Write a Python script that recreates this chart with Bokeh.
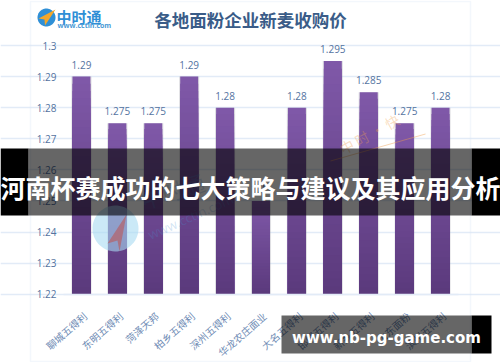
import numpy as np
from bokeh.plotting import figure
from bokeh.models import (ColumnDataSource, Range1d, FixedTicker, BoxAnnotation, Label, PolyAnnotation)
from bokeh.core.properties import value
from bokeh.embed import file_html
from bokeh.resources import INLINE

categories = ["聊城五得利", "东明五得利", "菏泽天邦", "柏乡五得利", "深州五得利", "华龙农庄面业",
              "大名五得利", "邯郸五得利", "新乡五得利", "山东面粉", "滨州五得利"]
prices = [1.29, 1.275, 1.275, 1.29, 1.28, 1.25, 1.28, 1.295, 1.285, 1.275, 1.28]
price_labels = ["1.29", "1.275", "1.275", "1.29", "1.28", "1.25", "1.28", "1.295", "1.285", "1.275", "1.28"]
y_ticks = [1.22, 1.23, 1.24, 1.25, 1.26, 1.27, 1.28, 1.29, 1.3]
y_tick_labels = ["1.22", "1.23", "1.24", "1.25", "1.26", "1.27", "1.28", "1.29", "1.3"]
title = "各地面粉企业新麦收购价"
banner = "河南杯赛成功的七大策略与建议及其应用分析"
site = "www.nb-pg-game.com"
BASE = 1.22
TOP = 1.3
CJK = "Noto Sans CJK SC"
TXT = "#54739f"

W, H = 500, 362
PL, PR, PT, PB = 63.0, 458.0, 45.0, 293.7   # plot rectangle in page pixels
n = len(categories)
xu = (PR - PL) / n
yu = (PB - PT) / (TOP - BASE)
xs_idx = [i + 0.5 for i in range(n)]
label_idx = [i + 0.6 for i in range(n)]   # rotated labels end a little right of the bar centre

p = figure(width=W, height=H, output_backend="svg", toolbar_location=None,
           x_range=Range1d(-PL / xu, (W - PL) / xu),
           y_range=Range1d(BASE - (H - PB) / yu, TOP + PT / yu),
           min_border=0, min_border_left=0, min_border_right=0, min_border_top=0, min_border_bottom=0,
           background_fill_color="white", border_fill_color="white", outline_line_color=None)

p.xgrid.grid_line_color = None
p.ygrid.grid_line_color = "#e2ebf7"
p.ygrid.grid_line_width = 1.5
p.ygrid.ticker = FixedTicker(ticks=y_ticks)
p.ygrid.bounds = (0, n)

p.yaxis.fixed_location = 0
p.yaxis.ticker = FixedTicker(ticks=y_ticks)
p.yaxis.major_label_overrides = dict(zip(y_ticks, y_tick_labels))
p.yaxis.axis_line_color = None
p.yaxis.major_tick_line_color = None
p.yaxis.major_tick_out = 0
p.yaxis.minor_tick_line_color = None
p.yaxis.major_label_text_font_size = "10px"
p.yaxis.major_label_text_color = TXT
p.yaxis.major_label_text_font = "Open Sans"
p.yaxis.major_label_standoff = 7

p.xaxis.fixed_location = BASE
p.xaxis.bounds = (0, n)
p.xaxis.ticker = FixedTicker(ticks=label_idx)
p.xaxis.major_label_overrides = dict(zip(label_idx, categories))
p.xaxis.axis_line_color = "#e2ebf7"
p.xaxis.axis_line_width = 1.5
p.xaxis.major_tick_line_color = None
p.xaxis.minor_tick_line_color = None
p.xaxis.major_label_orientation = 0.72
p.xaxis.major_label_text_font = CJK
p.xaxis.major_label_text_font_size = "10px"
p.xaxis.major_label_text_color = "#6f8cb5"
p.xaxis.major_label_standoff = 14

src = ColumnDataSource(dict(x=xs_idx, top=prices, labels=price_labels))
p.vbar(x="x", top="top", bottom=BASE, width=0.56, source=src, fill_color="#8c8c9c", fill_alpha=0.28, line_color=None)

steps = 30
top_rgb = np.array([0x7f, 0x58, 0xa8])
bot_rgb = np.array([0x5a, 0x39, 0x7b])
vals = np.array(prices)
for k in range(steps, 0, -1):
    f = k / steps
    c = bot_rgb + (top_rgb - bot_rgb) * f
    col = "#%02x%02x%02x" % tuple(int(round(v)) for v in c)
    p.vbar(x=xs_idx, top=BASE + (vals - BASE) * f, bottom=BASE, width=0.5, fill_color=col, line_color=None)

p.text(x="x", y="top", text="labels", source=src, text_align="center", text_baseline="bottom",
       text_font=value("Open Sans"), text_font_size="10px", text_color=TXT, y_offset=-8)


def sy(y):
    return H - y


def box(l, r, t, b, alpha, color="black", line=None, level="overlay"):
    p.add_layout(BoxAnnotation(left=l, right=r, top=sy(t), bottom=sy(b), left_units="screen", right_units="screen",
                               top_units="screen", bottom_units="screen", fill_color=color, fill_alpha=alpha,
                               line_color=line, line_width=1.5, level=level))


def label(x, y, text, font=CJK, size="10px", color="black", align="left", base="top", style="normal",
          angle=0, alpha=1.0, level="annotation"):
    p.add_layout(Label(x=x, y=sy(y), x_units="screen", y_units="screen", text=text, text_align=align,
                       text_baseline=base, text_font=font, text_font_size=size, text_font_style=style,
                       text_color=color, angle=angle, text_alpha=alpha, level=level))


def disc(cx, cy, r):
    a = np.linspace(0, 2 * np.pi, 60)
    return list(cx + r * np.cos(a)), list(sy(cy) + r * np.sin(a))


def poly(xs, ys, color, alpha=1.0):
    p.add_layout(PolyAnnotation(xs=xs, ys=[sy(v) for v in ys], xs_units="screen", ys_units="screen",
                                fill_color=color, fill_alpha=alpha, line_color=None, level="annotation"))


def circle(cx, cy, r, color, alpha=1.0):
    xs, ys = disc(cx, cy, r)
    p.add_layout(PolyAnnotation(xs=xs, ys=ys, xs_units="screen", ys_units="screen", fill_color=color,
                                fill_alpha=alpha, line_color=None, level="annotation"))


box(30, 470, 1, 361, 0, line="#d8e6f6", level="annotation")
label(250, 6, title, size="17.5px", color="#3a5c88", align="center", style="bold")

# logo
circle(46, 17, 9, "#2f8fd6")
poly([55, 38, 44, 44.5], [9, 18, 19, 25], "#f2a62a")
label(56, 5, "中时通", size="15px", style="bold", color="#2f8fd6")
label(57, 20, "www.cctin.com", font="Open Sans", size="7px", style="bold", color="#4a9ad6")

# watermarks
circle(115, 228, 23, "#a8daf2", 0.6)
poly([126, 107, 117, 119], [214, 243, 240, 251], "#c0504d", 0.55)
label(152, 243, "www.cctin.com", font="Open Sans", size="13px", color="#4a90d0", angle=0.42, alpha=0.25, base="bottom")
label(145, 215, "中时通", size="22px", color="#4a90d0", angle=0.3, alpha=0.25, base="bottom")
label(345, 158, "中 时 · 快", size="14px", color="#f0a050", angle=0.5, alpha=0.35, base="bottom")
poly([330, 425, 425, 330], [160, 133, 134, 161], "#f0a050", 0.45)

# banners
box(0, 28, 148, 215, 1)
box(471, 500, 148, 215, 1)
box(28, 471, 148, 215, 0.6)
box(471, 491, 315, 353, 1)
box(281, 471, 315, 353, 0.6)
label(250, 186, banner, size="25px", style="bold", color="white", align="center", base="middle", level="overlay")
label(386, 337, site, font="DejaVu Sans", size="15px", style="bold", color="white", align="center", base="middle",
      level="overlay")

open("out.html", "w").write(file_html(p, INLINE))
